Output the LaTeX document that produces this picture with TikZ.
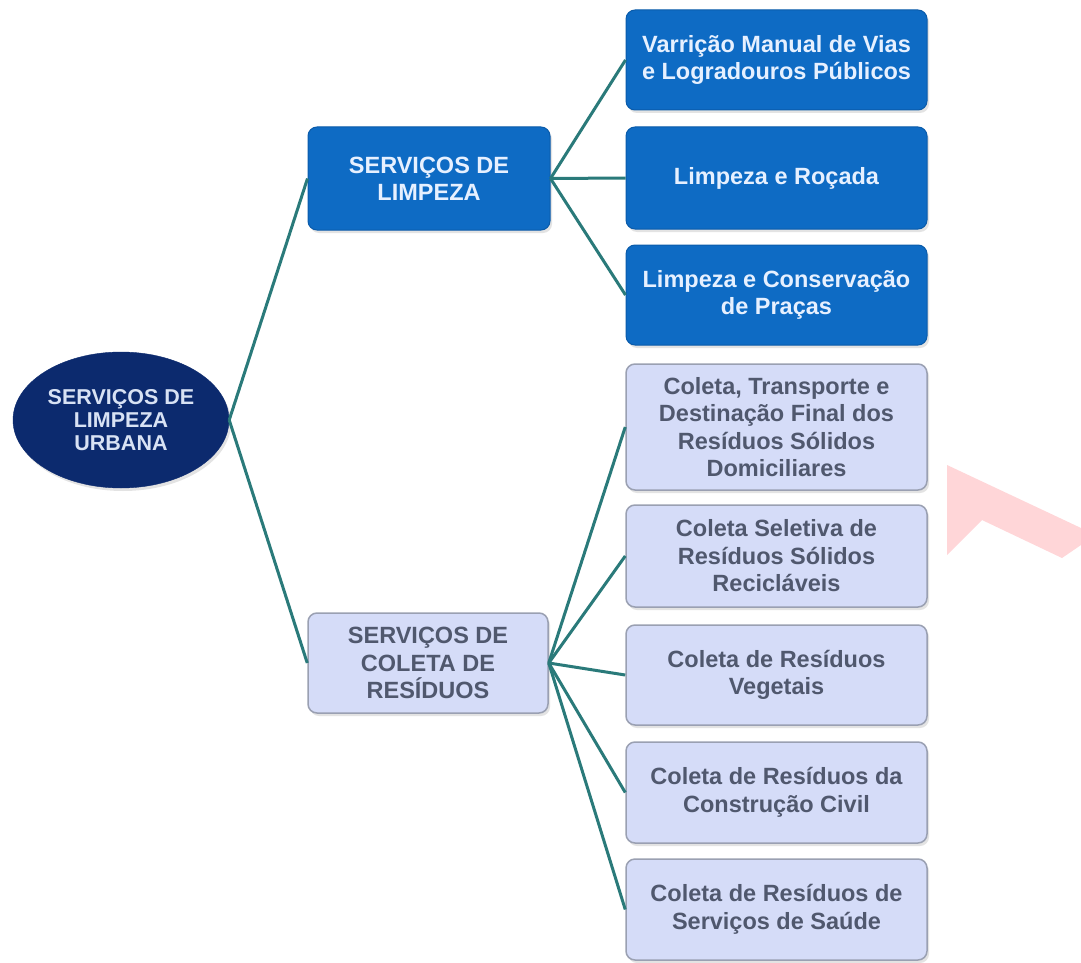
\documentclass[tikz,border=0pt]{standalone}
\usepackage{fontspec}
\setmainfont{Liberation Sans}
\usetikzlibrary{shapes.geometric,shadows}
\definecolor{navy}{HTML}{0C2A6E}
\definecolor{navytext}{HTML}{D8E2F4}
\definecolor{bluebox}{HTML}{0E6BC4}
\definecolor{blueedge}{HTML}{0A5BAA}
\definecolor{bluetext}{HTML}{E6F0FF}
\definecolor{lightbox}{HTML}{D5DCF8}
\definecolor{lightedge}{HTML}{9AA0B2}
\definecolor{lighttext}{HTML}{50586E}
\definecolor{conn}{HTML}{2A7A7A}
\definecolor{pinkmark}{HTML}{FFD6D8}
\tikzset{
  boxshadow/.style={drop shadow={opacity=0.22,shadow xshift=2pt,shadow yshift=-3pt}},
  rootnode/.style={ellipse,fill=navy,draw=navy,text=navytext,minimum width=216pt,minimum height=136pt,inner sep=0pt,align=center,font=\fontsize{21.5}{23}\selectfont\bfseries,boxshadow},
  darkbox/.style={rectangle,rounded corners=9pt,fill=bluebox,draw=blueedge,line width=1pt,text=bluetext,align=center,inner sep=0pt,font=\fontsize{23.5}{27}\selectfont\bfseries,boxshadow},
  lightbx/.style={rectangle,rounded corners=9pt,fill=lightbox,draw=lightedge,line width=1.5pt,text=lighttext,align=center,inner sep=0pt,font=\fontsize{23.5}{27.5}\selectfont\bfseries,boxshadow},
  rbox/.style={minimum width=301pt},
  link/.style={draw=conn,line width=3pt}
}
\begin{document}
\begin{tikzpicture}[x=1pt,y=-1pt]
\useasboundingbox (0,0) rectangle (1081,963);
\fill[white] (0,0) rectangle (1081,963);
% pink mark at right
\fill[pinkmark] (947,465) -- (1081,528) -- (1081,545) -- (1062,558) -- (982,520) -- (947,555) -- cycle;

\node[rootnode] (root) at (121,420) {SERVIÇOS DE\\LIMPEZA\\URBANA};
\node[darkbox,minimum width=242pt,minimum height=103pt] (limp) at (429,178.5) {SERVIÇOS DE\\LIMPEZA};
\node[lightbx,minimum width=240pt,minimum height=100pt] (colet) at (428,663) {SERVIÇOS DE\\COLETA DE\\RESÍDUOS};

\node[darkbox,rbox,minimum height=100pt] (d1) at (776.5,60) {Varrição Manual de Vias\\e Logradouros Públicos};
\node[darkbox,rbox,minimum height=102pt] (d2) at (776.5,178) {Limpeza e Roçada};
\node[darkbox,rbox,minimum height=100pt] (d3) at (776.5,295) {Limpeza e Conservação\\de Praças};

\node[lightbx,rbox,minimum height=126pt] (l1) at (776.5,427) {Coleta, Transporte e\\Destinação Final dos\\Resíduos Sólidos\\Domiciliares};
\node[lightbx,rbox,minimum height=102pt] (l2) at (776.5,556) {Coleta Seletiva de\\Resíduos Sólidos\\Recicláveis};
\node[lightbx,rbox,minimum height=100pt] (l3) at (776.5,675) {Coleta de Resíduos\\Vegetais};
\node[lightbx,rbox,minimum height=101pt] (l4) at (776.5,792.5) {Coleta de Resíduos da\\Construção Civil};
\node[lightbx,rbox,minimum height=101pt] (l5) at (776.5,909.5) {Coleta de Resíduos de\\Serviços de Saúde};

\draw[link] (root.east) -- (limp.west);
\draw[link] (root.east) -- (colet.west);
\foreach \t in {d1,d2,d3} \draw[link] (limp.east) -- (\t.west);
\foreach \t in {l1,l2,l3,l4,l5} \draw[link] (colet.east) -- (\t.west);
\end{tikzpicture}
\end{document}
